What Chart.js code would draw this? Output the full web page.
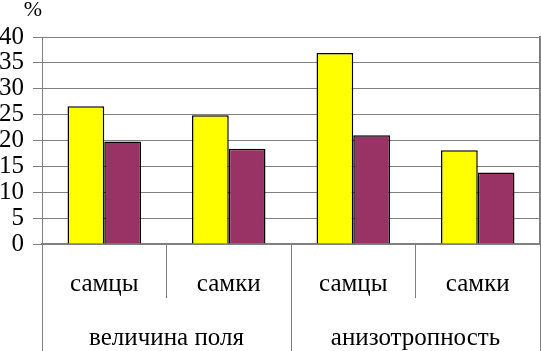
<!DOCTYPE html>
<html>
<head>
<meta charset="utf-8">
<script src="https://cdn.jsdelivr.net/npm/chart.js@4/dist/chart.umd.min.js"></script>
<style>
html,body{margin:0;padding:0;background:#fff;}
#wrap{width:541px;height:351px;position:relative;}
</style>
</head>
<body>
<div id="wrap"><canvas id="c" width="541" height="351"></canvas></div>
<script>
const subCategories = ['самцы', 'самки', 'самцы', 'самки'];
const groupLabels = ['величина поля', 'анизотропность'];
const yellowValues = [26.6, 24.9, 36.9, 18.1];
const purpleValues = [19.8, 18.4, 21.0, 13.8];
const yTicks = [0, 5, 10, 15, 20, 25, 30, 35, 40];
const unitLabel = '%';

const FONT = '"Liberation Serif"';
const GRAY = '#808080';

Chart.defaults.font.family = FONT;

const percentPlugin = {
  id: 'percentLabel',
  afterDraw(chart) {
    const ctx = chart.ctx;
    const ys = chart.scales.y;
    ctx.save();
    ctx.font = '22px ' + FONT;
    ctx.fillStyle = '#000';
    ctx.textAlign = 'center';
    ctx.textBaseline = 'middle';
    ctx.fillText(unitLabel, ys.right - 9, 10);
    ctx.restore();
  }
};

new Chart(document.getElementById('c'), {
  type: 'bar',
  data: {
    labels: subCategories,
    datasets: [
      { data: yellowValues, backgroundColor: '#FFFF00', borderColor: '#000', borderWidth: 1.5, xAxisID: 'x', yAxisID: 'y' },
      { data: purpleValues, backgroundColor: '#993366', borderColor: '#000', borderWidth: 1.5, xAxisID: 'x', yAxisID: 'y' }
    ]
  },
  options: {
    responsive: false,
    devicePixelRatio: 1,
    animation: false,
    events: [],
    layout: { padding: { top: 37, right: 1, left: 0, bottom: 0 } },
    plugins: { legend: { display: false }, tooltip: { enabled: false }, title: { display: false } },
    datasets: { bar: { categoryPercentage: 0.59, barPercentage: 1 } },
    scales: {
      x: {
        type: 'category',
        position: 'bottom',
        offset: true,
        grid: { display: true, offset: true, drawOnChartArea: false, drawTicks: true, tickLength: 54, color: GRAY, lineWidth: 1 },
        border: { display: true, color: GRAY, width: 2 },
        ticks: { font: { family: FONT, size: 25 }, color: '#000', padding: -29, maxRotation: 0, autoSkip: false },
        afterFit(s) { s.height = 54; }
      },
      x2: {
        type: 'category',
        position: 'bottom',
        labels: groupLabels,
        offset: true,
        grid: { display: true, offset: true, drawOnChartArea: false, drawTicks: true, tickLength: 53, color: GRAY, lineWidth: 1 },
        border: { display: false },
        ticks: { font: { family: FONT, size: 25 }, color: '#000', padding: -28, maxRotation: 0, autoSkip: false },
        afterFit(s) { s.height = 53; }
      },
      y: {
        type: 'linear',
        position: 'left',
        min: 0,
        max: 40,
        afterBuildTicks(s) { s.ticks = yTicks.map(v => ({ value: v })); },
        grid: { color: GRAY, lineWidth: 1, drawTicks: true, tickLength: 9 },
        border: { display: true, color: GRAY, width: 1 },
        ticks: { font: { family: FONT, size: 25 }, color: '#000', padding: 9, autoSkip: false, stepSize: 5 },
        afterFit(s) { s.width = 42; }
      },
      y2: {
        type: 'linear',
        position: 'right',
        min: 0,
        max: 40,
        grid: { drawOnChartArea: false, drawTicks: false },
        border: { display: true, color: GRAY, width: 2 },
        ticks: { display: false },
        afterFit(s) { s.width = 0; }
      }
    }
  },
  plugins: [percentPlugin]
});
</script>
</body>
</html>
